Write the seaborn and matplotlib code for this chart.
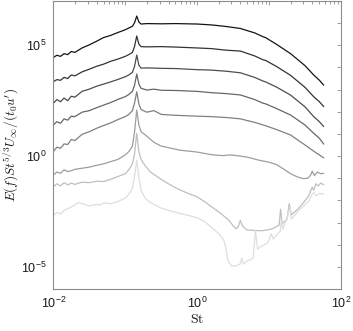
import numpy as np
import pandas as pd
import matplotlib
matplotlib.use("Agg")
import matplotlib.pyplot as plt
import matplotlib.ticker as mticker
import seaborn as sns

# ---- data (log10 St, log10 E) ----
c1_logSt = [-2.0, -1.95, -1.9, -1.85, -1.8, -1.75, -1.7, -1.6, -1.5, -1.4, -1.3, -1.2, -1.1, -1.0, -0.95, -0.9, -0.87, -0.84, -0.81, -0.78, -0.7, -0.5, -0.3, 0.0, 0.2, 0.4, 0.6, 0.8, 0.92, 0.95, 1.1, 1.3, 1.5, 1.62, 1.7, 1.76]
c1_logE = [4.45, 4.55, 4.50, 4.62, 4.58, 4.72, 4.68, 4.88, 5.02, 5.18, 5.35, 5.45, 5.58, 5.70, 5.78, 5.86, 6.02, 6.32, 6.05, 5.96, 5.98, 5.97, 5.98, 5.96, 5.92, 5.85, 5.76, 5.56, 5.38, 5.35, 5.05, 4.62, 4.08, 3.66, 3.42, 3.20]

c2_logSt = c1_logSt
c2_logE = [3.36, 3.45, 3.42, 3.55, 3.50, 3.66, 3.62, 3.80, 3.92, 4.05, 4.15, 4.28, 4.38, 4.50, 4.58, 4.68, 4.95, 5.42, 5.05, 4.94, 4.93, 4.94, 4.92, 4.88, 4.85, 4.78, 4.74, 4.52, 4.34, 4.32, 4.05, 3.64, 3.10, 2.68, 2.45, 2.23]

c3_logSt = c1_logSt
c3_logE = [2.38, 2.55, 2.45, 2.62, 2.50, 2.70, 2.66, 2.92, 3.02, 3.15, 3.25, 3.35, 3.46, 3.58, 3.66, 3.78, 4.05, 4.56, 4.10, 3.97, 3.98, 3.96, 3.95, 3.90, 3.88, 3.83, 3.76, 3.55, 3.38, 3.35, 3.12, 2.75, 2.22, 1.78, 1.55, 1.33]

c4_logSt = [-2.0, -1.95, -1.9, -1.85, -1.8, -1.75, -1.7, -1.6, -1.5, -1.4, -1.3, -1.2, -1.1, -1.0, -0.95, -0.9, -0.87, -0.84, -0.81, -0.78, -0.7, -0.6, -0.5, -0.3, 0.0, 0.2, 0.4, 0.6, 0.8, 0.92, 0.95, 1.1, 1.3, 1.5, 1.62, 1.7, 1.76]
c4_logE = [1.40, 1.55, 1.48, 1.68, 1.62, 1.80, 1.78, 1.98, 2.05, 2.18, 2.30, 2.42, 2.56, 2.68, 2.78, 2.92, 3.20, 3.70, 3.25, 3.06, 2.98, 3.02, 2.97, 2.96, 2.92, 2.86, 2.82, 2.76, 2.55, 2.38, 2.36, 2.15, 1.85, 1.40, 1.03, 0.80, 0.54]

c5_logSt = [-2.0, -1.95, -1.9, -1.85, -1.8, -1.75, -1.7, -1.6, -1.5, -1.4, -1.3, -1.2, -1.1, -1.0, -0.95, -0.9, -0.87, -0.84, -0.81, -0.78, -0.7, -0.6, -0.5, -0.3, 0.0, 0.2, 0.4, 0.6, 0.8, 0.92, 0.95, 1.1, 1.3, 1.4, 1.5, 1.62, 1.7, 1.76]
c5_logE = [0.20, 0.40, 0.35, 0.55, 0.52, 0.75, 0.70, 0.98, 1.10, 1.25, 1.38, 1.50, 1.65, 1.78, 1.88, 2.05, 2.40, 2.90, 2.35, 2.10, 1.98, 2.05, 1.88, 1.84, 1.80, 1.78, 1.74, 1.68, 1.52, 1.40, 1.37, 1.20, 0.95, 0.72, 0.50, 0.22, 0.05, -0.08]

c6_logSt = [-2.0, -1.95, -1.9, -1.85, -1.8, -1.75, -1.7, -1.6, -1.5, -1.4, -1.3, -1.2, -1.1, -1.0, -0.95, -0.9, -0.87, -0.84, -0.81, -0.78, -0.72, -0.6, -0.5, -0.4, -0.25, 0.0, 0.2, 0.35, 0.45, 0.55, 0.7, 0.85, 1.0, 1.1, 1.2, 1.3, 1.4, 1.48, 1.54, 1.58, 1.60, 1.63, 1.67, 1.72, 1.76]
c6_logE = [-0.86, -0.72, -0.78, -0.62, -0.70, -0.66, -0.60, -0.55, -0.50, -0.42, -0.35, -0.25, -0.15, 0.05, 0.20, 0.45, 1.10, 2.08, 1.40, 1.10, 0.95, 0.62, 0.45, 0.38, 0.27, 0.18, 0.06, 0.02, 0.05, 0.02, -0.05, -0.18, -0.28, -0.38, -0.58, -0.80, -0.95, -1.02, -1.00, -0.85, -0.68, -0.88, -0.72, -0.80, -0.78]

c7_logSt = [-2.0, -1.95, -1.9, -1.85, -1.8, -1.75, -1.7, -1.6, -1.5, -1.4, -1.3, -1.2, -1.1, -1.0, -0.95, -0.9, -0.87, -0.84, -0.81, -0.78, -0.72, -0.65, -0.5, -0.4, -0.26, -0.1, 0.0, 0.1, 0.2, 0.3, 0.44, 0.5, 0.54, 0.57, 0.60, 0.63, 0.69, 0.8, 0.9, 1.0, 1.06, 1.14, 1.16, 1.18, 1.25, 1.28, 1.31, 1.38, 1.43, 1.5, 1.55, 1.6, 1.62, 1.65, 1.68, 1.72, 1.76]
c7_logE = [-1.38, -1.25, -1.35, -1.20, -1.30, -1.22, -1.28, -1.18, -1.20, -1.14, -1.15, -1.05, -0.92, -0.80, -0.62, -0.35, 0.10, 1.03, 0.20, -0.15, -0.45, -0.72, -1.05, -1.25, -1.50, -1.72, -1.84, -2.05, -2.29, -2.52, -2.89, -3.15, -3.28, -3.20, -2.90, -3.15, -3.34, -3.36, -3.37, -3.32, -3.26, -3.12, -2.40, -3.05, -2.85, -2.15, -2.66, -2.45, -2.29, -2.02, -1.80, -1.40, -1.55, -1.25, -1.35, -1.22, -1.30]

c8_logSt = [-2.0, -1.95, -1.9, -1.85, -1.8, -1.75, -1.7, -1.65, -1.6, -1.5, -1.4, -1.35, -1.3, -1.2, -1.1, -1.0, -0.95, -0.9, -0.87, -0.84, -0.81, -0.78, -0.72, -0.65, -0.5, -0.35, -0.2, 0.0, 0.1, 0.2, 0.3, 0.37, 0.40, 0.43, 0.48, 0.55, 0.60, 0.62, 0.64, 0.70, 0.74, 0.78, 0.81, 0.84, 0.9, 0.97, 1.0, 1.03, 1.06, 1.12, 1.155, 1.17, 1.19, 1.25, 1.29, 1.31, 1.4, 1.5, 1.55, 1.6, 1.62, 1.66, 1.7, 1.76]
c8_logE = [-2.70, -2.55, -2.62, -2.45, -2.38, -2.30, -2.20, -2.10, -2.15, -2.25, -2.18, -2.22, -2.12, -2.15, -2.05, -1.90, -1.72, -1.45, -0.90, -0.18, -1.00, -1.55, -1.92, -2.10, -2.35, -2.50, -2.62, -2.78, -2.95, -3.22, -3.50, -3.80, -4.15, -4.75, -4.96, -4.95, -4.86, -4.62, -4.88, -4.72, -4.68, -4.60, -3.35, -4.20, -4.05, -3.94, -3.80, -3.50, -3.75, -3.50, -3.40, -2.90, -3.30, -2.80, -2.30, -2.85, -2.50, -2.20, -2.05, -1.72, -1.65, -1.80, -1.68, -1.72]

curves = [
    ("c1", c1_logSt, c1_logE), ("c2", c2_logSt, c2_logE), ("c3", c3_logSt, c3_logE),
    ("c4", c4_logSt, c4_logE), ("c5", c5_logSt, c5_logE), ("c6", c6_logSt, c6_logE),
    ("c7", c7_logSt, c7_logE), ("c8", c8_logSt, c8_logE),
]
grey_levels = [0.08, 0.2, 0.3, 0.4, 0.5, 0.62, 0.75, 0.87]

x_major_labels = {1e-2: r"$\mathregular{10^{-2}}$", 1e0: r"$\mathregular{10^{0}}$", 1e2: r"$\mathregular{10^{2}}$"}
y_major_labels = {1e-5: r"$\mathregular{10^{-5}}$", 1e0: r"$\mathregular{10^{0}}$", 1e5: r"$\mathregular{10^{5}}$"}

rows = []
for name, ls, le in curves:
    for a, b in zip(ls, le):
        rows.append({"curve": name, "St": 10.0 ** a, "E": 10.0 ** b})
df = pd.DataFrame(rows)

sns.set_style("white")
plt.rcParams["font.family"] = ["Liberation Sans", "DejaVu Sans"]
plt.rcParams["mathtext.fontset"] = "cm"

fig = plt.figure(figsize=(3.53, 3.31), dpi=100)
ax = fig.add_axes([0.151, 0.127, 0.815, 0.870])

palette = {name: str(g) for (name, _, _), g in zip(curves, grey_levels)}
sns.lineplot(data=df, x="St", y="E", hue="curve", palette=palette, estimator=None,
             sort=False, legend=False, linewidth=0.9, ax=ax)

ax.set_xscale("log")
ax.set_yscale("log")
ax.set_xlim(1e-2, 1e2)
ax.set_ylim(1e-6, 1e7)


def make_fmt(labels):
    def f(v, p):
        for k, lab in labels.items():
            if abs(v / k - 1) < 1e-6:
                return lab
        return ""
    return f


ax.xaxis.set_major_locator(mticker.FixedLocator([10.0 ** k for k in range(-2, 3)]))
ax.xaxis.set_major_formatter(mticker.FuncFormatter(make_fmt(x_major_labels)))
ax.xaxis.set_minor_locator(mticker.LogLocator(base=10, subs=np.arange(2, 10), numticks=20))
ax.xaxis.set_minor_formatter(mticker.NullFormatter())

ax.yaxis.set_major_locator(mticker.FixedLocator([10.0 ** k for k in range(-6, 8)]))
ax.yaxis.set_major_formatter(mticker.FuncFormatter(make_fmt(y_major_labels)))
ax.yaxis.set_minor_locator(mticker.NullLocator())

frame_col = "0.55"
for s in ax.spines.values():
    s.set_color(frame_col)
    s.set_linewidth(0.8)
    s.set_visible(True)
ax.tick_params(which="both", direction="in", top=True, right=True, color=frame_col,
               labelcolor="0.1", labelsize=9, width=0.6)
ax.tick_params(which="major", length=3.2, pad=5)
ax.tick_params(which="minor", length=1.8)

ax.set_xlabel(r"$\mathrm{St}$", fontsize=10, labelpad=1, color="0.1")
ax.set_ylabel(r"$E(f)St^{5/3}U_{\infty}/(t_0u^{\prime})$", fontsize=9.5, labelpad=0, color="0.1")

fig.savefig("out.png", dpi=100)
